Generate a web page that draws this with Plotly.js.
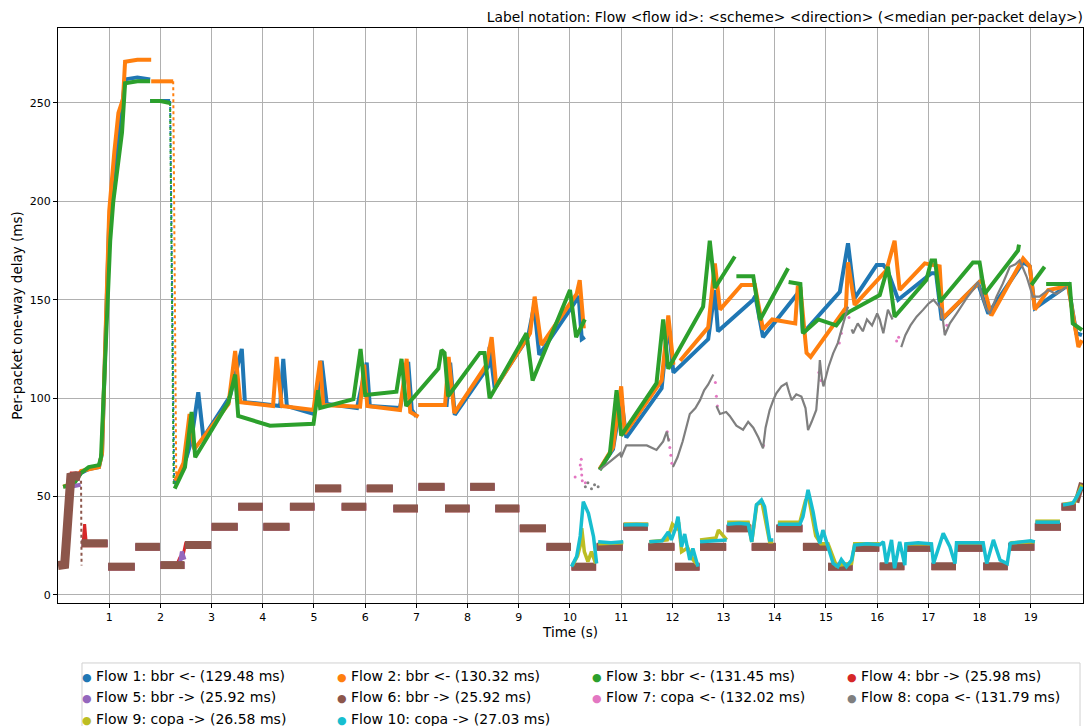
<!DOCTYPE html>
<html><head><meta charset="utf-8">
<script src="https://cdn.plot.ly/plotly-3.0.1.min.js"></script>
<style>html,body{margin:0;padding:0;background:#fff}#chart{width:1084px;height:726px}</style>
</head><body><div id="chart"></div>
<script>
// ---- legend / series metadata ----
const flowNames = [
  'Flow 1: bbr &lt;- (129.48 ms)', 'Flow 2: bbr &lt;- (130.32 ms)', 'Flow 3: bbr &lt;- (131.45 ms)',
  'Flow 4: bbr -&gt; (25.98 ms)', 'Flow 5: bbr -&gt; (25.92 ms)', 'Flow 6: bbr -&gt; (25.92 ms)',
  'Flow 7: copa &lt;- (132.02 ms)', 'Flow 8: copa &lt;- (131.79 ms)', 'Flow 9: copa -&gt; (26.58 ms)',
  'Flow 10: copa -&gt; (27.03 ms)'];
const flowColors = ['#1f77b4','#ff7f0e','#2ca02c','#d62728','#9467bd','#8c564b','#e377c2','#7f7f7f','#bcbd22','#17becf'];
const xTicks = [1,2,3,4,5,6,7,8,9,10,11,12,13,14,15,16,17,18,19];
const yTicks = [0,50,100,150,200,250];

// ---- Flow 1 (bbr <-) ----
const flow1T = [0.12,0.3,0.45,0.6,0.8,0.86,1.0,1.1,1.2,1.31,1.55,1.8,null,1.8,2.0,2.19,null,
  2.29,2.51,2.6,2.74,2.84,3.36,3.59,3.65,4.34,4.4,4.47,4.99,null,
  5.05,5.15,5.25,5.84,6.03,6.09,6.68,6.84,6.91,7.0,null,
  7.04,7.59,7.66,7.75,8.4,8.43,8.53,9.18,9.3,9.4,10.13,10.17,10.23,10.29,null,
  10.58,10.84,11.0,11.1,11.79,11.92,12.02,12.7,12.83,12.89,13.58,13.62,13.77,14.43,14.5,14.55,15.27,15.43,15.56,15.99,16.12,16.2,16.41,17.06,17.15,17.26,17.97,18.17,18.85,18.98,19.08,19.73,19.89,20.0];
const flow1Ms = [55,57,62,64,65,72,190,215,236,262,263,262,null,251,251,251,null,
  56,70,78,103,80,101,125,98,96,120,96,92,null,
  97,119,97,95,118,96,95,118.5,94,90.6,null,
  96.5,96.5,118,91.5,116,126,105,131,147,122,150,152,130,131,null,
  64,74,100,80,105,138,113,130,155,134,150,152,131,153,155,133,154,178.7,150.8,167.7,167.7,165,150,163.5,163.5,139.7,158.4,143,169,167,145.7,157.5,133,132];
const flow1DropT = [2.19,2.23,2.27];
const flow1DropMs = [251,150,56];

// ---- Flow 2 (bbr <-) ----
const flow2T = [0.1,0.3,0.45,0.6,0.8,0.86,1.0,1.1,1.18,1.27,1.31,1.55,1.82,null,1.82,2.0,2.25,null,
  2.29,2.45,2.57,2.66,3.33,3.46,3.56,4.2,4.27,4.37,4.99,5.12,5.18,5.9,5.98,6.04,6.68,6.81,6.88,7.04,null,
  7.04,7.56,7.63,7.74,8.37,8.47,8.56,9.22,9.31,9.44,10.13,10.19,10.27,null,
  10.58,10.84,11.0,11.07,11.79,11.92,12.02,null,
  12.15,12.7,12.83,12.93,13.35,13.61,13.77,13.95,14.4,14.45,14.5,14.62,14.7,15.39,15.43,15.56,16.18,16.34,16.44,16.93,17.22,17.28,18.0,18.05,18.23,18.85,18.98,19.08,19.34,19.73,19.93,20.0];
const flow2Ms = [55,57,63,64,65,72,195,225,245,252,271,272,272,null,261,261,261,null,
  58,67,92,74,97,124,98,96,121,96,94,119,96.5,95.7,117,96,94,120,93,90.6,null,
  96.5,96.5,121,92.4,117,131,106,133,151.6,127,153,160,135.5,null,
  64,75,106,82,109,142,117,null,
  119,136,168.5,145,157.5,157.5,135,140,138,157,156,123,121,146,169,147.4,165,180,155,168.5,167,140.6,159,160,142,171,167,145,155,157,126,129.5];
const flow2DropT = [2.25,2.28,2.31];
const flow2DropMs = [261,150,58];

// ---- Flow 3 (bbr <-) ----
const flow3T = [0.1,0.3,0.45,0.6,0.8,0.84,1.02,1.08,1.25,1.31,1.55,1.8,null,1.8,2.0,2.19,null,
  2.28,2.48,2.61,2.68,3.33,3.46,3.52,4.14,4.99,5.08,5.12,5.77,5.91,6.0,6.61,6.71,6.8,7.43,7.49,7.55,7.62,8.24,8.33,8.43,9.15,9.27,10.0,10.12,10.29,null,
  10.58,10.78,10.91,11.0,11.69,11.82,11.92,12.6,12.73,12.83,13.22,null,
  13.25,13.58,13.71,14.26,null,
  14.27,14.5,14.55,14.85,15.2,15.35,15.46,16.05,16.21,16.34,16.96,17.06,17.13,17.23,17.87,18.0,18.1,18.75,18.77,null,
  19.01,19.27,null,
  19.3,19.76,19.82,20.0];
const flow3Ms = [55,56,62,65,66,70,180,200,235,260,261,261,null,251,251,250,null,
  54,65,93,70,98,112,91,86,87,104,95,99.5,125,101.6,103.3,120,96,115,124.5,123,101,123,123,100,133,109,155,131,140,null,
  63.5,72,104,81,107.6,140,115,146.5,180,156,172,null,
  162,162,139.7,166,null,
  159,158,133,140,137,142,144,152.4,166.8,141.4,160,170,170,149,169,169,153,175,178,null,
  157.5,166.8,null,
  158,158,138,134.6];
const flow3DropT = [2.19,2.22,2.26];
const flow3DropMs = [250,150,55];

// ---- Flows 4-6 (bbr ->): plateaus of the forward delay ----
const stepStart = [0.46,0.98,1.51,2.0,2.48,3.0,3.52,4.01,4.53,5.02,5.54,6.03,6.55,7.04,7.56,8.05,8.54,9.02,9.54,10.03,
  10.52,11.04,11.53,12.05,12.54,13.06,13.55,14.03,14.55,15.04,15.53,16.05,16.54,17.06,17.55,18.07,18.56,19.08,19.6];
const stepEnd = [0.97,1.5,1.99,2.47,2.99,3.51,4.0,4.52,5.01,5.53,6.02,6.54,7.03,7.55,8.04,8.53,9.01,9.53,10.02,10.51,
  11.03,11.52,12.04,12.53,13.05,13.54,14.02,14.54,15.03,15.52,16.04,16.53,17.05,17.54,18.06,18.55,19.07,19.59,19.88];
const flow4Levels = [26,14.2,24.3,15,25.2,34.5,44.7,34.5,44.7,54,44.7,54,43.8,54.8,43.8,54.8,43.8,33.7,24.3,14.2,
  24.3,34.5,24.3,14.2,24.3,33.7,24.3,33.7,24.3,14.2,23.8,14.4,23.8,14.4,23.8,14.4,24.3,34.5,44.7];
const flow5Levels = [26.2,14.3,24.4,15.1,25.3,34.6,44.8,34.6,44.8,54.1,44.8,54.1,43.9,54.9,43.9,54.9,43.9,33.8,24.4,14.3,
  24.4,34.6,24.4,14.3,24.4,33.8,24.4,33.8,24.4,14.3,23.9,14.5,23.9,14.5,23.9,14.5,24.4,34.6,44.8];
const flow6Levels = [26.3,14.4,24.5,15.2,25.4,34.7,44.9,34.7,44.9,54.2,44.9,54.2,44,55,44,55,44,33.9,24.5,14.4,
  24.5,34.7,24.5,14.4,24.5,33.9,24.5,33.9,24.5,14.4,24,14.6,24,14.6,24,14.6,24.5,34.7,44.9];
const flow4ExtraT = [0.17,0.22,0.26,0.44,null,0.49,0.52,0.55,null,2.33,2.38,2.45,2.5];
const flow4ExtraMs = [25,50,62,62,null,26,36,27,null,16,19,21,27];
const flow5ExtraT = [0.15,0.2,0.25,0.44,null,2.38,2.42,2.47];
const flow5ExtraMs = [16,35,55,56,null,16,22,18];
const flow6HeadT = [0,0.13,0.17,0.21,0.25,0.35,0.44];
const flow6HeadMs = [15,15.5,30,52,60,60.5,60];
const flow6TailT = [19.89,19.95,20.0];
const flow6TailMs = [47,52,57];
const flow6DropT = [0.45,0.455,0.46];
const flow6DropMs = [58,35,15];

// ---- Flow 7 (copa <-): visible points, mostly hidden under flow 8 ----
const flow7T = [10.1,10.2,10.22,10.22,10.23,10.24,10.3,11.9,11.93,11.95,11.97,11.99,12.84,12.86,12.88,13.78,14.86,14.9,15.26,15.3,15.45,16.38,16.42,17.33,17.36];
const flow7Ms = [60,66,69,64,61,58,57,83,79,75,71,67,108,101,96,76,113,109,128,133,141,129,131,134,137];

// ---- Flow 8 (copa <-) ----
const flow8T = [10.58,10.78,10.98,11.0,11.1,11.5,11.69,11.82,11.89,11.93,null,
  12.01,12.1,12.2,12.34,12.45,12.54,12.62,12.7,12.8,null,
  12.86,12.93,13.05,13.12,13.25,13.38,13.48,13.58,13.68,13.77,13.82,13.9,13.97,14.03,14.13,14.23,14.28,14.33,14.42,14.52,14.6,14.65,14.72,14.81,14.86,14.88,14.92,14.95,15.05,15.14,15.23,15.3,15.43,null,
  15.5,15.53,15.62,15.72,15.8,15.9,16.0,16.05,16.12,16.18,16.21,16.3,null,
  16.47,16.55,16.65,16.77,16.9,17.0,17.1,17.2,17.26,17.32,17.42,17.55,17.65,17.75,17.87,17.97,18.05,18.12,18.2,18.33,18.45,18.59,18.7,18.78,18.85,18.92,19.04,19.17,19.34,19.5,19.7];
const flow8Ms = [63.5,67.7,72,70,76,76,73.7,78,83,78,null,
  65,70,78,92,95,99,104,107,112,null,
  96,92,93,91,86,84,88,85,80,74.5,85,94,99,102.5,106,107.6,103,99,102,100.8,95,83.8,88,94,110,119.4,110,106,116,122.8,128,135,146.5,null,
  135,133,138,134,140,137,143,140,133,141,145,140,null,
  126,132,137,141.4,145,148,150,147,145,132,138,143,147,151,155,159,152,146,143,151.6,158,166.8,168,170,166,161.7,151.6,151.6,155,153,156.7];
const flow8DotsT = [10.3,10.35,10.42,10.48,10.55];
const flow8DotsMs = [55,57,54,56,55];

// ---- Flow 9 (copa ->) ----
const flow9T = [10.05,10.15,10.2,10.23,10.28,10.35,10.42,10.5,null,
  10.55,11.04,null,11.05,11.53,null,
  11.55,11.9,12.0,12.08,12.12,12.18,12.3,12.4,12.5,null,
  12.54,12.85,12.9,13.06,null,
  13.07,13.48,13.55,13.65,13.75,13.9,13.97,null,
  14.06,14.49,14.6,14.66,14.8,14.9,15.04,15.2,15.5,15.56,16.05,null,
  16.56,17.06,null,17.55,18.07,null,18.6,19.08,null,19.09,19.57,null,19.63,19.85,20.0];
const flow9Ms = [15,20,25,34,22,17,22,16,null,
  26,26.5,null,36,36,null,
  27,28,36,34,37,22,24,18,15,null,
  28,29,33,28,null,
  37,37,27,46,47,27,27,null,
  37,37,48,50,30,26,26,15,16,26,26,null,
  26,26,null,26.5,26.5,null,26.5,27,null,37.5,37.5,null,46,47,56];

// ---- Flow 10 (copa ->) ----
const flow10T = [10.03,10.13,10.2,10.26,10.3,10.36,10.46,10.5,10.52,null,
  10.55,10.8,11.04,null,
  11.05,11.3,11.53,null,
  11.55,11.8,11.92,11.98,12.05,12.11,12.18,12.24,12.34,12.4,12.5,null,
  12.54,12.8,13.06,null,
  13.07,13.3,13.48,13.55,13.64,13.74,13.8,13.9,13.97,null,
  14.06,14.3,14.49,14.55,14.65,14.75,14.81,14.88,14.94,15.04,15.14,15.23,15.3,15.4,15.5,15.56,15.8,16.05,16.12,16.18,16.28,16.34,16.44,16.54,16.56,16.8,17.06,17.1,17.2,17.29,17.42,17.52,17.55,17.8,18.07,18.14,18.27,18.4,18.54,18.6,18.8,19.0,19.08,null,
  19.09,19.3,19.57,null,
  19.63,19.82,19.9,20.0];
const flow10Ms = [14.4,19.5,30,47.4,45,41.5,29.6,20,16,null,
  27,26.5,27,null,
  35.5,35.8,35.5,null,
  27,27.5,32,28,33,39.8,24.5,31,17.8,23.7,14.4,null,
  27,27.5,28,null,
  36,36.5,36,27,45.7,48.3,45,28,28,null,
  36,36,36,39.8,53.4,42,33,26.3,33,24.5,16,14.4,18,14.4,17.8,25.4,26,25.5,27,16,28,13.6,27,15.2,26,26.5,26,16,24,31.3,24.5,16,26.5,26.5,26.5,16,28,17.8,16,26.3,27,27.5,27,null,
  37,37,37,null,
  45.7,46.6,50,55];

// ---- build traces ----
function line(x, y, color, width, dash) {
  return {x: x, y: y, type: 'scatter', mode: 'lines', showlegend: false, hoverinfo: 'skip',
          line: {color: color, width: width, dash: dash || 'solid'}};
}
function dots(x, y, color, size) {
  return {x: x, y: y, type: 'scatter', mode: 'markers', showlegend: false, hoverinfo: 'skip',
          marker: {color: color, size: size, line: {width: 0}}};
}
function steps(levels, color, width) {
  const x = [], y = [];
  stepStart.forEach((s, i) => { x.push(s, stepEnd[i], null); y.push(levels[i], levels[i], null); });
  return line(x, y, color, width);
}
const c = flowColors;
const traces = [
  line(flow1T, flow1Ms, c[0], 4), line(flow1DropT, flow1DropMs, c[0], 2, 'dot'),
  line(flow2T, flow2Ms, c[1], 4), line(flow2DropT, flow2DropMs, c[1], 2, 'dot'),
  line(flow3T, flow3Ms, c[2], 4), line(flow3DropT, flow3DropMs, c[2], 2, 'dot'),
  steps(flow4Levels, c[3], 7), line(flow4ExtraT, flow4ExtraMs, c[3], 3),
  steps(flow5Levels, c[4], 7), line(flow5ExtraT, flow5ExtraMs, c[4], 4),
  steps(flow6Levels, c[5], 8), line(flow6HeadT, flow6HeadMs, c[5], 9), line(flow6TailT, flow6TailMs, c[5], 6),
  line(flow6DropT, flow6DropMs, c[5], 2, 'dot'),
  dots(flow7T, flow7Ms, c[6], 3),
  line(flow8T, flow8Ms, c[7], 2.2), dots(flow8DotsT, flow8DotsMs, c[7], 3),
  line(flow9T, flow9Ms, c[8], 3.5),
  line(flow10T, flow10Ms, c[9], 3.5)
];
flowNames.forEach((n, i) => {
  traces.push({x: [null], y: [null], type: 'scatter', mode: 'markers', showlegend: true,
               name: '<span style="color:' + c[i] + ';font-size:11px">\u25CF</span> ' + n,
               marker: {color: 'rgba(0,0,0,0)', size: 1}});
});

const layout = {
  width: 1084, height: 726,
  margin: {l: 58, r: 1, t: 28, b: 123, autoexpand: false},
  paper_bgcolor: '#ffffff', plot_bgcolor: '#ffffff',
  font: {family: 'DejaVu Sans, sans-serif', size: 11, color: '#000000'},
  title: {text: 'Label notation: Flow &lt;flow id&gt;: &lt;scheme&gt; &lt;direction&gt; (&lt;median per-packet delay&gt;)',
          xref: 'paper', x: 1, xanchor: 'right', yref: 'container', y: 1 - 17/726, yanchor: 'middle',
          font: {size: 13.8, color: '#000000'}},
  showlegend: true,
  legend: {orientation: 'h', x: -0.0156, xanchor: 'left', y: -0.0995, yanchor: 'top',
           bgcolor: 'rgba(0,0,0,0)', borderwidth: 0, font: {size: 14},
           entrywidth: 210, entrywidthmode: 'pixels', traceorder: 'normal'},
  shapes: [{type: 'rect', xref: 'paper', yref: 'paper', x0: 0.0234, x1: 0.9971, y0: -0.1043, y1: -0.26,
            line: {color: '#d0d0d0', width: 1}, fillcolor: 'rgba(0,0,0,0)', layer: 'below'}],
  xaxis: {range: [0, 20.02], tickvals: xTicks, ticks: 'outside', ticklen: 4, tickcolor: '#000',
          showline: true, mirror: true, linecolor: '#000', linewidth: 1,
          showgrid: true, gridcolor: '#b0b0b0', gridwidth: 1, zeroline: false,
          tickfont: {size: 11}, title: {text: 'Time (s)', font: {size: 13.5}, standoff: 3}},
  yaxis: {range: [-4.07, 288.1], tickvals: yTicks, ticks: 'outside', ticklen: 4, tickcolor: '#000',
          showline: true, mirror: true, linecolor: '#000', linewidth: 1,
          showgrid: true, gridcolor: '#b0b0b0', gridwidth: 1, zeroline: false,
          tickfont: {size: 11}, title: {text: 'Per-packet one-way delay (ms)', font: {size: 13.5}, standoff: 4}}
};
Plotly.newPlot('chart', traces, layout, {displayModeBar: false, staticPlot: true});
</script></body></html>
